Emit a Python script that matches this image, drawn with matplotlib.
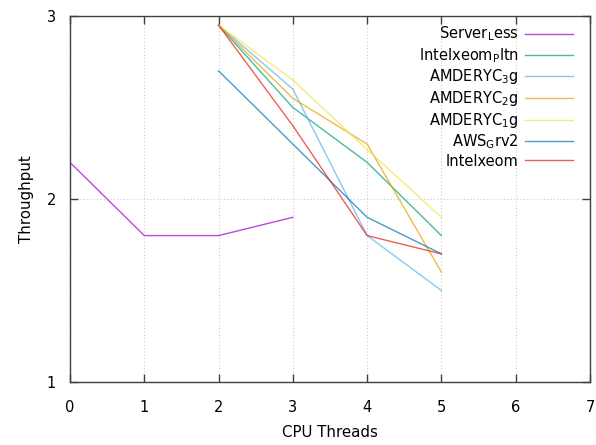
import matplotlib
matplotlib.use("Agg")
import matplotlib.pyplot as plt

plt.rcParams['font.family'] = ['DejaVu Sans']
plt.rcParams['mathtext.fontset'] = 'custom'
plt.rcParams['mathtext.rm'] = 'DejaVu Sans'

# Data
x_server = [0, 1, 2, 3]
y_server = [2.2, 1.8, 1.8, 1.9]

x_threads = [2, 3, 4, 5]
series_names = [
    r"Intelxeom$_{\mathrm{P}}$ltn",
    r"AMDERYC$_{\mathrm{3}}$g",
    r"AMDERYC$_{\mathrm{2}}$g",
    r"AMDERYC$_{\mathrm{1}}$g",
    r"AWS$_{\mathrm{G}}$rv2",
    "Intelxeom",
]
intel_pltn = [2.95, 2.5, 2.2, 1.8]
amd_3g = [2.95, 2.6, 1.8, 1.5]
amd_2g = [2.95, 2.55, 2.3, 1.6]
amd_1g = [2.95, 2.65, 2.27, 1.9]
aws_grv2 = [2.7, 2.3, 1.9, 1.7]
intel_xeom = [2.95, 2.4, 1.8, 1.7]
series_values = [intel_pltn, amd_3g, amd_2g, amd_1g, aws_grv2, intel_xeom]

x_ticks = [0, 1, 2, 3, 4, 5, 6, 7]
y_ticks = [1, 2, 3]

colors = ["#009e73", "#56b4e9", "#e69f00", "#f0e442", "#0072b2", "#e51e10"]
server_color = "#9400d3"

fig = plt.figure(figsize=(5.96, 4.45), dpi=100)
ax = fig.add_axes([70/596, 1 - 382/445, 520/596, 366/445])

ax.plot(x_server, y_server, color=server_color, lw=1.0, alpha=0.7,
        label=r"Server$_{\mathrm{L}}$ess")
for name, vals, c in zip(series_names, series_values, colors):
    ax.plot(x_threads, vals, color=c, lw=1.0, alpha=0.7, label=name)

ax.set_xlim(0, 7)
ax.set_ylim(1, 3)
ax.set_xticks(x_ticks)
ax.set_yticks(y_ticks)
ax.tick_params(axis='x', pad=13)
ax.tick_params(axis='y', pad=10)
ax.tick_params(direction='in', top=True, right=True, length=6, width=1,
               color='#404040', labelsize=10.5)
ax.grid(True, linestyle=(0, (1, 2)), color='#cccccc', lw=0.8)
for s in ax.spines.values():
    s.set_color('#404040')
    s.set_linewidth(1.0)

ax.set_xlabel("CPU Threads", fontsize=10.8, labelpad=7)
ax.set_ylabel("Throughput", fontsize=10.8, labelpad=9)

leg = ax.legend(loc='upper right', markerfirst=False, frameon=False,
                fontsize=10.5, handlelength=3.3, labelspacing=0.18,
                handletextpad=0.45, borderaxespad=0.2, borderpad=0.4,
                bbox_to_anchor=(0.985, 1.0))

fig.savefig("out.png", dpi=100)
